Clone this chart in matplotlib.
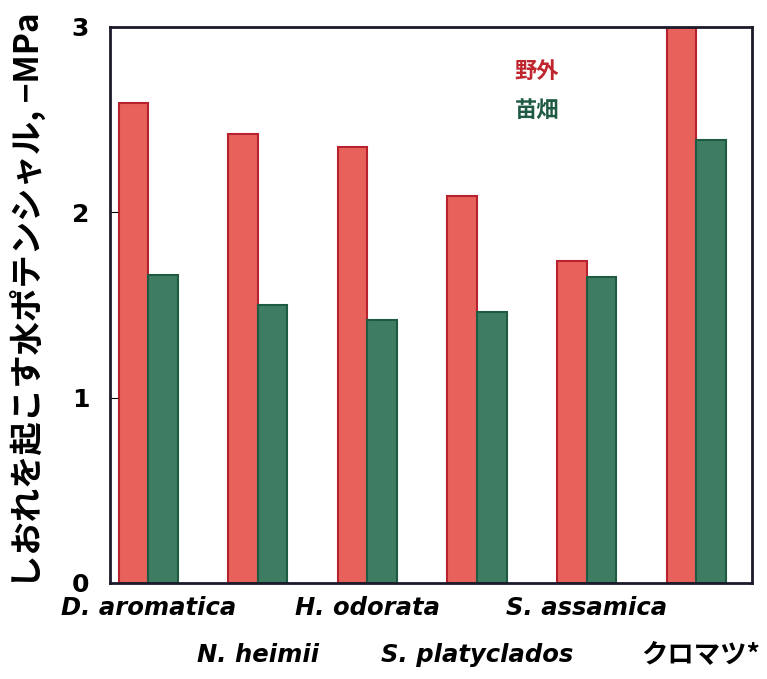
import matplotlib
matplotlib.use("Agg")
import matplotlib.pyplot as plt
import numpy as np

plt.rcParams['font.family'] = ['Noto Sans CJK JP', 'DejaVu Sans']

categories = ["D. aromatica", "N. heimii", "H. odorata", "S. platyclados", "S. assamica", "クロマツ*"]
field = [2.59, 2.42, 2.35, 2.09, 1.74, 3.0]
nursery = [1.66, 1.50, 1.42, 1.46, 1.65, 2.39]
series_names = ["野外", "苗畑"]
yticks = [0, 1, 2, 3]
ylabel = "しおれを起こす水ポテンシャル, −MPa"

red_fill, red_edge = "#e8625c", "#b8222e"
green_fill, green_edge = "#3f7d62", "#1f5a42"

fig = plt.figure(figsize=(7.67, 6.79), dpi=100)
ax = fig.add_axes([110/767, 1-583/679, (752-110)/767, (583-27)/679])

x = np.arange(len(categories))
w = 0.27
ax.bar(x - w/2, field, w, color=red_fill, edgecolor=red_edge, linewidth=1.5)
ax.bar(x + w/2, nursery, w, color=green_fill, edgecolor=green_edge, linewidth=1.5)

ax.set_xlim(-0.35, 5.51)
ax.set_ylim(0, 3)
ax.set_yticks(yticks)
ax.set_yticklabels([str(t) for t in yticks], fontsize=18, fontweight='bold', family='DejaVu Sans')
ax.tick_params(axis='y', direction='in', length=6, pad=15)
ax.set_xticks([])
for s in ax.spines.values():
    s.set_linewidth(2)
    s.set_color("#1a1a2a")

for i, c in enumerate(categories):
    yoff = -0.045 if i % 2 == 0 else -0.13
    if i < 5:
        ax.text(x[i], yoff, c, transform=ax.get_xaxis_transform(), ha='center', va='center',
                fontsize=17.5, fontstyle='italic', fontweight='bold', family=['DejaVu Sans'], clip_on=False)
    else:
        ax.text(x[i] - 0.5, yoff, c, transform=ax.get_xaxis_transform(), ha='left', va='center',
                fontsize=19, fontstyle='italic', fontweight='bold',
                family=['Noto Sans CJK JP', 'DejaVu Sans'], clip_on=False)

fig.text(28/767, 1-300/679, ylabel, rotation=90, ha='center', va='center',
         fontsize=24, fontweight='bold')

ax.text(0.665, 0.92, series_names[0], transform=ax.transAxes, color="#c0262e",
        fontsize=16, fontweight='bold', ha='center', va='center')
ax.text(0.665, 0.85, series_names[1], transform=ax.transAxes, color="#1f5a42",
        fontsize=16, fontweight='bold', ha='center', va='center')

fig.savefig("out.png", dpi=100)
